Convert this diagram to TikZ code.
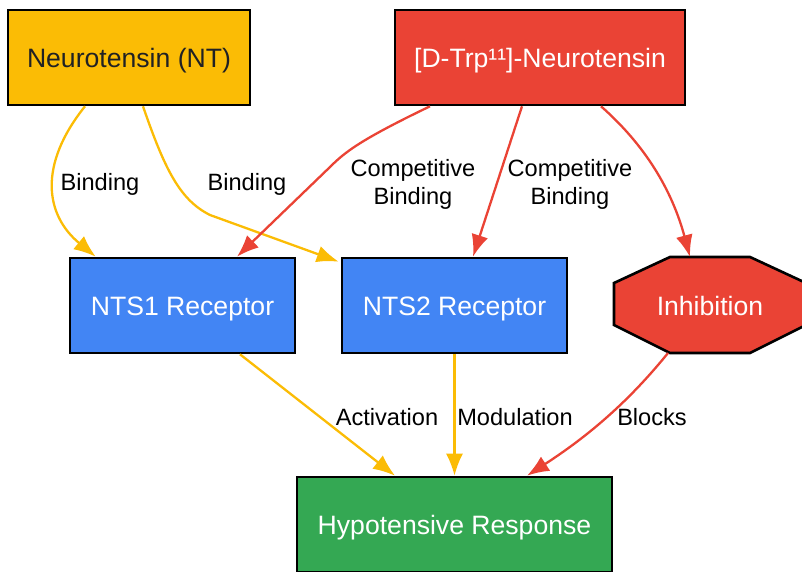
\documentclass[tikz,border=0pt]{standalone}
\usepackage{fontspec}
\setmainfont{Liberation Sans}
\usetikzlibrary{arrows.meta,calc}

\definecolor{ntyellow}{HTML}{FBBC05}
\definecolor{ntred}{HTML}{EA4335}
\definecolor{ntblue}{HTML}{4285F4}
\definecolor{ntgreen}{HTML}{34A853}
\definecolor{ntdark}{HTML}{202124}

\begin{document}
\begin{tikzpicture}[x=0.5pt,y=-0.5pt,
	box/.style={draw=black, line width=1.3pt, minimum width=#1*0.5pt,
		minimum height=47.5pt, inner sep=0pt, text=white,
		text height=12pt, text depth=2pt,
		font=\fontsize{13.3}{16}\selectfont},
	edge label/.style={inner sep=0pt, align=center,
		font=\fontsize{11.8}{14}\selectfont},
	yellow edge/.style={draw=ntyellow, line width=1.15pt,
		-{Latex[length=11pt,width=8.5pt]}},
	red edge/.style={draw=ntred, line width=1.15pt,
		-{Latex[length=11pt,width=8.5pt]}}]
	    % Setup the page (in pixels of the reference)
	    \clip (0,0) rectangle (802,572);
	    \useasboundingbox (0,0) rectangle (802,572);

	    % Draw the boxes
	    \node [box=242, fill=ntyellow, text=ntdark] (nt)
		at (129,57.5) {Neurotensin (NT)};
	    \node [box=290, fill=ntred] (analog)
		at (540,57.5) {[D-Trp¹¹]-Neurotensin};
	    \node [box=225, fill=ntblue] (nts1) at (182.5,305.5) {NTS1 Receptor};
	    \node [box=225, fill=ntblue] (nts2) at (454.5,305.5) {NTS2 Receptor};
	    \node [box=315, fill=ntgreen] (hypo)
		at (454.5,524.5) {Hypotensive Response};

	    % The octagon is drawn by hand, it is wider than it is high
	    \draw [fill=ntred, line width=1.3pt]
		(614,283) -- (670,257) -- (750,257) -- (806,283)
		-- (806,325) -- (750,353) -- (670,353) -- (614,325) -- cycle;
	    \node [inner sep=0pt, text=white, text height=12pt, text depth=2pt,
		font=\fontsize{13.3}{16}\selectfont]
		(inhibition) at (710,305.5) {Inhibition};
	    \coordinate (inhibition top)    at (690,257);
	    \coordinate (inhibition bottom) at (668,353);

	    % Binding of the peptide
	    \draw [yellow edge] ($(nt.south)+(-44,0)$)
		.. controls (38,165) and (45,215) .. ($(nts1.north west)+(27,0)$);
	    \draw [yellow edge] ($(nt.south)+(14,0)$)
		.. controls (165,170) and (180,200) .. (210,215)
		-- ($(nts2.north west)+(-2,5)$);
	    \node [edge label] (bind one) at (100,184) {Binding};
	    \node [edge label] (bind two) at (247,184) {Binding};

	    % Competitive binding of the analog
	    \draw [red edge] ($(analog.south)+(-110,0)$)
		.. controls (360,140) and (345,152) .. (330,167)
		-- ($(nts1.north)+(54.5,0)$);
	    \draw [red edge] ($(analog.south)+(-18,0)$)
		-- ($(nts2.north)+(18.5,0)$);
	    \draw [red edge] ($(analog.south)+(61,0)$)
		.. controls (645,145) and (672,190) .. (inhibition top);
	    \node [edge label] (compete one) at (413,184) {Competitive\\Binding};
	    \node [edge label] (compete two) at (570,184) {Competitive\\Binding};

	    % And the response
	    \draw [yellow edge] ($(nts1.south)+(57.5,0)$)
		-- ($(hypo.north)+(-59.5,0)$);
	    \draw [yellow edge] (nts2.south) -- (hypo.north);
	    \draw [red edge] (inhibition bottom)
		.. controls (630,400) and (590,435) .. ($(hypo.north)+(72.5,0)$);
	    \node [edge label] (activation) at (387,417) {Activation};
	    \node [edge label] (modulation) at (515,417) {Modulation};
	    \node [edge label] (blocks)     at (652,417) {Blocks};
\end{tikzpicture}
\end{document}
